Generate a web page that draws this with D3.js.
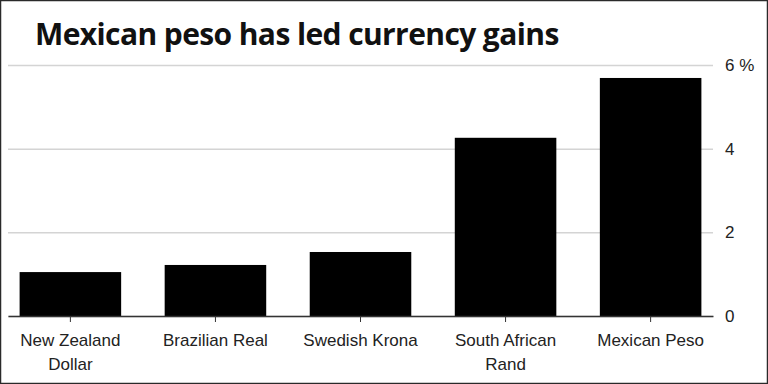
<!DOCTYPE html>
<html>
<head>
<meta charset="utf-8">
<script src="https://cdn.jsdelivr.net/npm/d3@7/dist/d3.min.js"></script>
<style>
  html, body { margin: 0; padding: 0; background: #fff; }
  svg { display: block; }
</style>
</head>
<body>
<div id="viz"></div>
<script>
const categories = [['New Zealand', 'Dollar'], ['Brazilian Real'], ['Swedish Krona'], ['South African', 'Rand'], ['Mexican Peso']];
const values = [1.05, 1.22, 1.53, 4.26, 5.69];
const yTicks = [0, 2, 4, 6];
const title = 'Mexican peso has led currency gains';

function buildChart(containerId) {
    const width = 768;
    const height = 384;

    const margin = {
        top: 65,
        bottom: 68,
        right: 55,
        left: 8
    };

    const innerWidth = width - margin.left - margin.right;
    const innerHeight = height - margin.top - margin.bottom;

    const svg = d3.select(containerId)
                  .append('svg')
                  .attr('width', width)
                  .attr('height', height);

    svg.append('rect')
       .attr('x', 0.5)
       .attr('y', 0.5)
       .attr('width', width - 1)
       .attr('height', height - 1)
       .attr('fill', '#fff')
       .attr('stroke', '#2a2a2a')
       .attr('stroke-width', 1.5);

    svg.append('text')
       .attr('x', 35)
       .attr('y', 45)
       .attr('font-family', '"Open Sans", sans-serif')
       .attr('font-weight', 'bold')
       .attr('font-size', 30)
       .attr('fill', '#111')
       .attr('letter-spacing', -0.6)
       .text(title);

    const g = svg.append('g')
                 .attr('transform', 'translate(' + margin.left + ',' + margin.top + ')');

    const x = d3.scaleBand()
                .domain(d3.range(categories.length))
                .range([0, innerWidth])
                .paddingInner(0.3)
                .paddingOuter(0.08);

    const y = d3.scaleLinear()
                .domain([0, 6])
                .range([innerHeight, 0]);

    // gridlines + right labels
    const yAxis = d3.axisRight(y)
                    .tickValues(yTicks)
                    .tickSize(innerWidth)
                    .tickFormat(d => d === 6 ? '6 %' : d);

    g.append('g')
     .attr('class', 'y-axis')
     .call(yAxis)
     .call(s => s.select('.domain').remove())
     .call(s => s.selectAll('line').attr('stroke', '#d4d4d4').attr('stroke-width', 1.5))
     .call(s => s.selectAll('text')
                 .attr('x', innerWidth + 12)
                 .attr('font-family', '"Liberation Sans", Arial, sans-serif')
                 .attr('font-size', 17)
                 .attr('fill', '#222'));

    g.selectAll('.bar')
     .data(values)
     .enter()
     .append('rect')
     .attr('class', 'bar')
     .attr('x', (d, i) => x(i))
     .attr('y', d => y(d))
     .attr('width', x.bandwidth())
     .attr('height', d => innerHeight - y(d))
     .attr('fill', '#000');

    const xAxis = d3.axisBottom(x)
                    .tickSizeOuter(0)
                    .tickSizeInner(6)
                    .tickFormat('');

    const xg = g.append('g')
                .attr('class', 'x-axis')
                .attr('transform', 'translate(0,' + innerHeight + ')')
                .call(xAxis);

    xg.select('.domain').attr('stroke', '#333').attr('stroke-width', 1.5);
    xg.selectAll('line').attr('stroke', '#333');

    xg.selectAll('.tick')
      .append('text')
      .attr('fill', '#222')
      .attr('font-family', '"Liberation Sans", Arial, sans-serif')
      .attr('font-size', 17)
      .attr('text-anchor', 'middle')
      .each(function(d) {
          const t = d3.select(this);
          categories[d].forEach((line, k) => {
              t.append('tspan')
               .attr('x', 0)
               .attr('y', 30 + k * 24)
               .text(line);
          });
      });
}

buildChart('#viz');
</script>
</body>
</html>
